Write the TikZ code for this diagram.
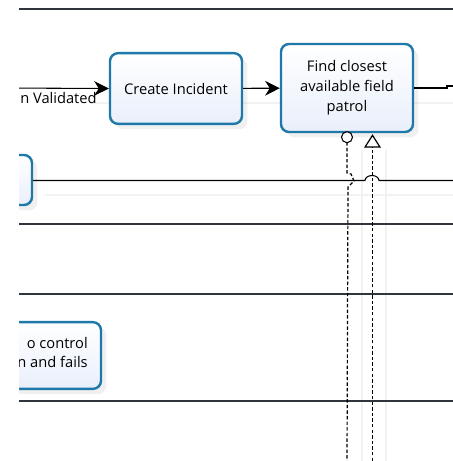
\documentclass[tikz,border=0pt]{standalone}
\usepackage{fontspec}
\setmainfont{Open Sans}
\usepackage{tikz}
\usetikzlibrary{arrows.meta,calc,positioning,shadows}
\definecolor{taskblue}{HTML}{1F78AA}
\definecolor{taskfill}{HTML}{E9EFFB}
\definecolor{laneline}{HTML}{30343B}
\tikzset{
  task/.style={draw=taskblue, line width=1.8pt, rounded corners=6pt, top color=white, bottom color=taskfill,
    align=center, font=\fontsize{11}{15}\selectfont, inner sep=3pt,
    drop shadow={opacity=0.12, shadow xshift=4pt, shadow yshift=-4pt}},
  lane/.style={laneline, line width=0.9pt},
  seqflow/.style={black, line width=0.8pt, -{Stealth[length=11pt, width=11pt, inset=3.5pt]}},
  seqline/.style={black, line width=0.8pt},
  msgflow/.style={black, line width=0.9pt, dash pattern=on 2.6pt off 1.6pt},
  ghost/.style={black!5, line width=0.8pt},
  flowlabel/.style={font=\fontsize{11}{12}\selectfont, inner sep=0pt}
}
\begin{document}
\begin{tikzpicture}[x=0.75pt, y=-0.75pt]
  \useasboundingbox (0,0) rectangle (453,461);
  \begin{scope}
    \clip (19,0) rectangle (453,461);
    % connector shadows
    \draw[ghost] (90,103) -- (453,103);
    \draw[ghost] (45,195) -- (453,195);
    \draw[ghost] (362,150) -- (362,461);
    \draw[ghost] (386,150) -- (386,461);
    % lanes
    \foreach \y in {9,224,294,401}
      \draw[lane] (19,\y) -- (453,\y);
    % tasks
    \node[task, minimum width=99pt, minimum height=53pt] (create) at (176,88.5) {Create Incident};
    \node[task, minimum width=99pt, minimum height=66pt] (find) at (347,88) {Find closest\\available field\\patrol};
    \node[task, minimum width=99pt, minimum height=37.5pt] (left) at (-34,180) {};
    \node[task, minimum width=99pt, minimum height=50pt] (fails) at (35,355.5) {};
    \node[flowlabel, anchor=east, align=right, font=\fontsize{11}{14.5}\selectfont] (failstext) at (88,352.5) {o control\\n and fails};
    % flows
    \coordinate (validin) at (0,88);
    \coordinate (findout) at (453,86);
    \draw[seqflow] (validin) -- (create.west);
    \node[flowlabel, anchor=west] (validlabel) at (20,98) {n Validated};
    \draw[seqflow] (create) -- (find);
    \draw[seqline] (find.east |- 0,88) -- (447,88) -- (447,86) -- (findout);
    \coordinate (leftout) at (453,180.5);
    \draw[seqline] (left.east |- 0,180.5) -- (365,180.5) arc[start angle=180, end angle=360, x radius=7, y radius=5] -- (leftout);
    % message flows
    \coordinate (msgdown) at (347,461);
    \coordinate (msgup) at (372.5,461);
    \draw[msgflow] (find.south -| 347,0) ++(0,9) -- (347,173) -- (351,174) -- (354,181) -- (348,187) -- (msgdown);
    \draw[black, line width=0.8pt, fill=white] ($(find.south -| 347,0)+(0,4)$) circle[radius=5.5];
    \draw[msgflow, -{Triangle[open, length=10pt, width=12.5pt, fill=white]}] (msgup) -- ($(find.south -| 372.5,0)+(0,1)$);
  \end{scope}
\end{tikzpicture}
\end{document}
